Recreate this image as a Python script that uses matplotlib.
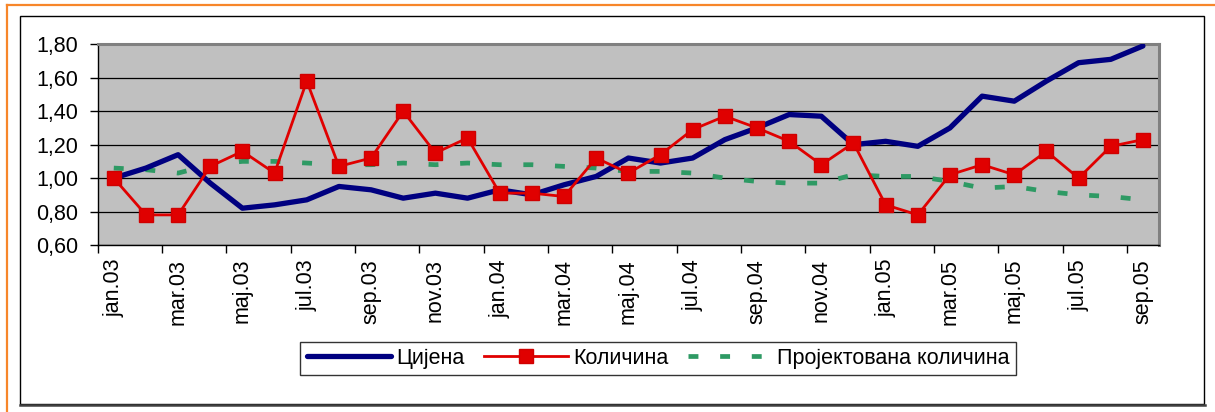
import numpy as np
import matplotlib.pyplot as plt
from matplotlib.lines import Line2D
from matplotlib.patches import Rectangle
from matplotlib.ticker import FuncFormatter

plt.rcParams['font.family'] = ['Liberation Sans', 'DejaVu Sans']

months = ["jan", "feb", "mar", "apr", "maj", "jun", "jul", "avg", "sep", "okt", "nov", "dec"]
years = ["03", "04", "05"]
labels = [m + "." + y for y in years for m in months][:33]

cijena = [1.00, 1.06, 1.14, 0.97, 0.82, 0.84, 0.87, 0.95, 0.93, 0.88, 0.91, 0.88,
          0.93, 0.90, 0.96, 1.01, 1.12, 1.09, 1.12, 1.23, 1.30, 1.38, 1.37, 1.20,
          1.22, 1.19, 1.30, 1.49, 1.46, 1.58, 1.69, 1.71, 1.79]
kolicina = [1.00, 0.78, 0.78, 1.07, 1.16, 1.03, 1.58, 1.07, 1.12, 1.40, 1.15, 1.24,
            0.91, 0.91, 0.89, 1.12, 1.03, 1.14, 1.29, 1.37, 1.30, 1.22, 1.08, 1.21,
            0.84, 0.78, 1.02, 1.08, 1.02, 1.16, 1.00, 1.19, 1.23]
projekt = [1.06, 1.05, 1.03, 1.08, 1.10, 1.10, 1.09, 1.08, 1.08, 1.09, 1.08, 1.09,
           1.08, 1.08, 1.07, 1.06, 1.04, 1.04, 1.03, 1.00, 0.98, 0.97, 0.97, 1.02,
           1.01, 1.01, 0.98, 0.94, 0.95, 0.92, 0.90, 0.89, 0.87]

W, H = 1215, 412
fig = plt.figure(figsize=(W / 100, H / 100), dpi=100)

# outer frame: orange (top, left) and black chart border
fig.add_artist(Line2D([7 / W, 7 / W], [0, 1 - 4.5 / H], color="#F7862A", lw=1.6))
fig.add_artist(Line2D([7 / W, 1], [1 - 4.5 / H, 1 - 4.5 / H], color="#F7862A", lw=1.6))
fig.add_artist(Rectangle((20 / W, 1 - 404 / H), (1204 - 20) / W, (404 - 15.7) / H,
                         transform=fig.transFigure, fill=False, ec="black", lw=1.0))
fig.add_artist(Line2D([20 / W, 1205 / W], [1 - 404.5 / H] * 2, color="#404040", lw=1.8))

ax = fig.add_axes([97.7 / W, 1 - 245 / H, (1159 - 97.7) / W, (245 - 44.3) / H])
ax.set_facecolor("#C0C0C0")
x = np.arange(len(labels))

ax.plot(x, projekt, color="#2E9A64", lw=3.4, linestyle=(0, (2.1, 4.6)),
        dash_capstyle="butt", label="Пројектована количина", zorder=2)
ax.plot(x, cijena, color="#000080", lw=3.8, solid_joinstyle="round",
        solid_capstyle="round", label="Цијена", zorder=3)
ax.plot(x, kolicina, color="#E00000", lw=2.0, marker="s", markersize=9.5,
        markerfacecolor="#E00000", markeredgecolor="#D00000", label="Количина", zorder=4)

ax.set_xlim(-0.5, len(labels) - 0.5)
ax.set_ylim(0.6, 1.8)
ax.set_yticks(np.arange(0.6, 1.81, 0.2))
ax.yaxis.set_major_formatter(FuncFormatter(lambda v, p: f"{v:.2f}".replace(".", ",")))
ax.grid(axis="y", color="black", lw=0.9)
ax.set_axisbelow(True)

ax.set_xticks(np.arange(-0.5, len(labels) - 1, 2))
ax.set_xticklabels([])
ax.set_xticks(x[::2], minor=True)
ax.set_xticklabels(labels[::2], minor=True, rotation=90)
ax.tick_params(axis="x", which="minor", length=0, pad=10, labelsize=15.5)
ax.tick_params(axis="x", which="major", length=6, width=1, direction="out")
ax.tick_params(axis="y", length=6, width=1, labelsize=15.5, pad=8)

for s in ["top", "right"]:
    ax.spines[s].set_color("#808080")
    ax.spines[s].set_linewidth(2.2)
for s in ["left", "bottom"]:
    ax.spines[s].set_color("black")
    ax.spines[s].set_linewidth(1.0)

h, l = ax.get_legend_handles_labels()
order = [1, 2, 0]
leg = fig.legend([h[i] for i in order], [l[i] for i in order], ncol=3,
                 loc="center", bbox_to_anchor=(658 / W, 1 - 358.5 / H),
                 fontsize=15.5, frameon=True, fancybox=False, edgecolor="black",
                 handlelength=3.9, handletextpad=0.25, columnspacing=0.9,
                 borderpad=0.3, borderaxespad=0)
leg.get_frame().set_linewidth(1.0)

fig.savefig("out.png", dpi=100)
